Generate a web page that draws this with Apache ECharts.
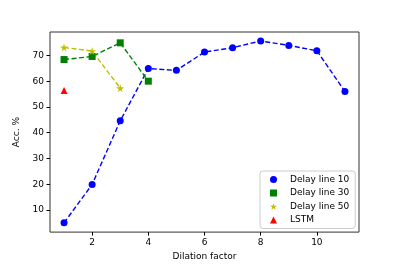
<!DOCTYPE html>
<html><head><meta charset="utf-8">
<script src="https://cdn.jsdelivr.net/npm/echarts@6/dist/echarts.min.js"></script>
<style>html,body{margin:0;padding:0;background:#fff}#c{width:399px;height:266px}</style>
</head><body><div id="c"></div>
<script>
const dilation10 = [1,2,3,4,5,6,7,8,9,10,11];
const acc10 = [5.0,19.9,44.6,64.9,64.2,71.3,73.0,75.6,73.9,71.8,56.0];
const dilation30 = [1,2,3,4];
const acc30 = [68.4,69.6,74.9,60.0];
const dilation50 = [1,2,3];
const acc50 = [73.1,71.7,57.3];
const dilationLSTM = [1];
const accLSTM = [56.4];
const xTicks = [2,4,6,8,10];
const yTicks = [10,20,30,40,50,60,70];
const names = ['Delay line 10','Delay line 30','Delay line 50','LSTM'];

const star = 'path://M50,0 L61,35 L98,35 L68,57 L79,91 L50,70 L21,91 L32,57 L2,35 L39,35 Z';
const font = 'DejaVu Sans';
const zip = (a,b)=>a.map((v,i)=>[v,b[i]]);
const dash = {type:[5,2.5], width:1.4};

const chart = echarts.init(document.getElementById('c'), null, {renderer:'canvas'});
chart.setOption({
  animation:false,
  textStyle:{fontFamily:font},
  grid:{left:50,right:40,top:32,bottom:33,show:true,borderColor:'#333',borderWidth:1,backgroundColor:'#fff'},
  xAxis:{type:'value',min:0.5,max:11.5,
    name:'Dilation factor',nameLocation:'middle',nameGap:17,
    nameTextStyle:{fontSize:9,color:'#000',fontFamily:font},
    axisLine:{show:false},
    splitLine:{show:false},
    axisTick:{show:true,customValues:xTicks,length:3.5,lineStyle:{color:'#000'}},
    axisLabel:{customValues:xTicks,fontSize:9,color:'#000',margin:6,fontFamily:font}},
  yAxis:{type:'value',min:1.4,max:79.1,
    name:'Acc. %',nameLocation:'middle',nameGap:24,
    nameTextStyle:{fontSize:9,color:'#000',fontFamily:font},
    axisLine:{show:false},
    splitLine:{show:false},
    axisTick:{show:true,customValues:yTicks,length:3.5,lineStyle:{color:'#000'}},
    axisLabel:{customValues:yTicks,fontSize:9,color:'#000',margin:6,fontFamily:font}},
  legend:{orient:'vertical',left:260,top:171,width:94,
    backgroundColor:'#fff',borderColor:'#ccc',borderWidth:1,borderRadius:3,
    padding:[4,6,4,10],itemGap:4.5,itemWidth:7,itemHeight:7,
    textStyle:{fontSize:9,color:'#000',fontFamily:font,padding:[0,0,0,8]},
    data:[
      {name:names[0],icon:'circle'},
      {name:names[1],icon:'rect'},
      {name:names[2],icon:star},
      {name:names[3],icon:'triangle'}]},
  series:[
    {name:names[0],type:'line',data:zip(dilation10,acc10),symbol:'circle',symbolSize:7,
     itemStyle:{color:'#0000ff'},lineStyle:Object.assign({color:'#0000ff'},dash)},
    {name:names[1],type:'line',data:zip(dilation30,acc30),symbol:'rect',symbolSize:7,
     itemStyle:{color:'#008000'},lineStyle:Object.assign({color:'#008000'},dash)},
    {name:names[2],type:'line',data:zip(dilation50,acc50),symbol:star,symbolSize:8,
     itemStyle:{color:'#bfbf00'},lineStyle:Object.assign({color:'#bfbf00'},dash)},
    {name:names[3],type:'scatter',data:zip(dilationLSTM,accLSTM),symbol:'triangle',symbolSize:7,
     itemStyle:{color:'#ff0000',opacity:1}}
  ]
});
</script></body></html>
